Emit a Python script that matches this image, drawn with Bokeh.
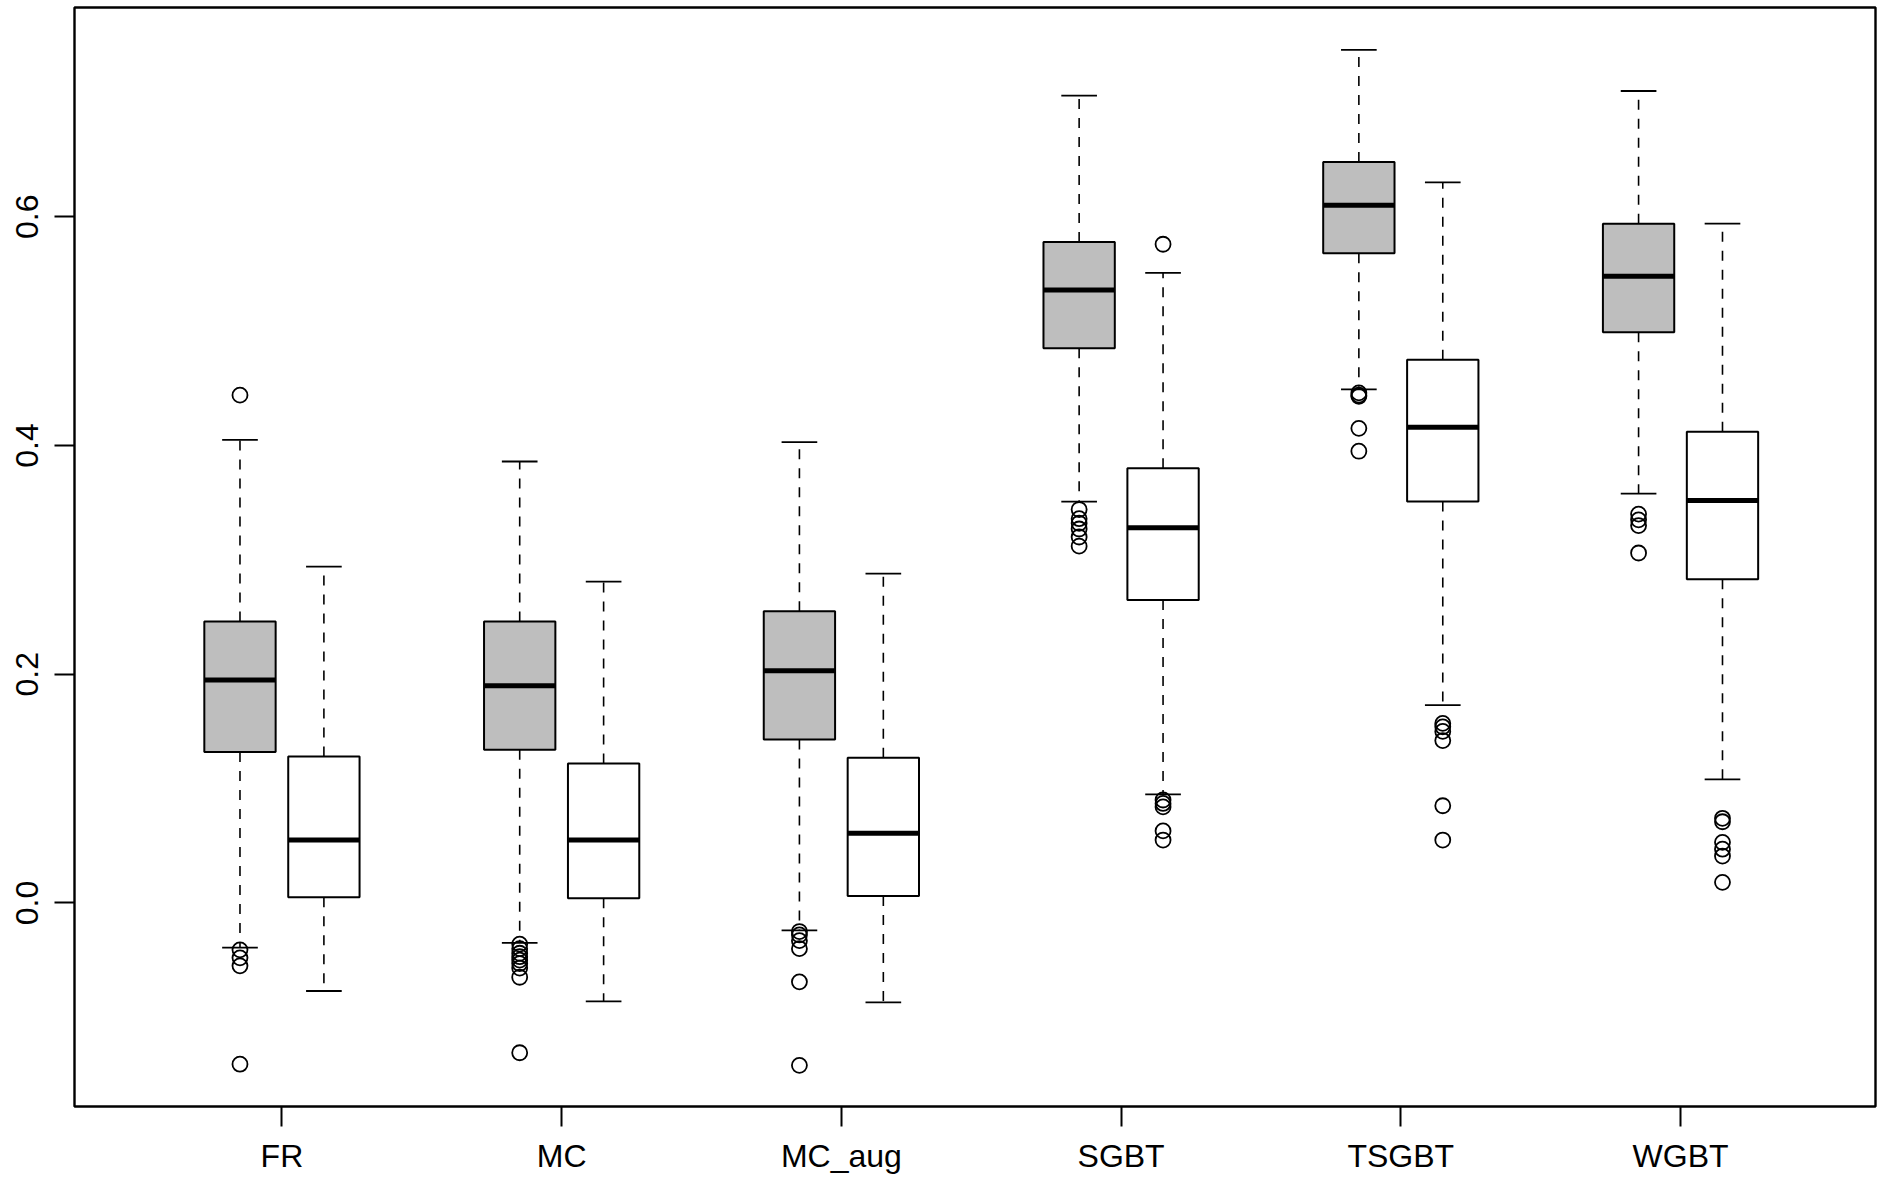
from bokeh.plotting import figure
from bokeh.models import Range1d, FixedTicker, PrintfTickFormatter, ColumnDataSource
from bokeh.embed import file_html
from bokeh.resources import INLINE

categories = ["FR", "MC", "MC_aug", "SGBT", "TSGBT", "WGBT"]

# gray series: (lower whisker, Q1, median, Q3, upper whisker)
gray_low = [-0.039, -0.035, -0.024, 0.351, 0.449, 0.358]
gray_q1 = [0.132, 0.134, 0.143, 0.485, 0.568, 0.499]
gray_med = [0.195, 0.190, 0.203, 0.536, 0.610, 0.548]
gray_q3 = [0.246, 0.246, 0.255, 0.578, 0.648, 0.594]
gray_high = [0.405, 0.386, 0.403, 0.706, 0.746, 0.710]
gray_out = [
    [0.444, -0.041, -0.048, -0.055, -0.141],
    [-0.036, -0.040, -0.044, -0.047, -0.050, -0.053, -0.057, -0.065, -0.131],
    [-0.025, -0.028, -0.033, -0.040, -0.069, -0.142],
    [0.344, 0.336, 0.332, 0.327, 0.320, 0.312],
    [0.446, 0.444, 0.443, 0.415, 0.395],
    [0.340, 0.335, 0.330, 0.306],
]

# white series
white_low = [-0.077, -0.086, -0.087, 0.095, 0.173, 0.108]
white_q1 = [0.005, 0.004, 0.006, 0.265, 0.351, 0.283]
white_med = [0.055, 0.055, 0.061, 0.328, 0.416, 0.352]
white_q3 = [0.128, 0.122, 0.127, 0.380, 0.475, 0.412]
white_high = [0.294, 0.281, 0.288, 0.551, 0.630, 0.594]
white_out = [
    [],
    [],
    [],
    [0.576, 0.090, 0.087, 0.084, 0.063, 0.055],
    [0.157, 0.154, 0.150, 0.142, 0.085, 0.055],
    [0.074, 0.071, 0.053, 0.047, 0.041, 0.018],
]

positions = [1, 2, 3, 4, 5, 6]
offset = 0.15
box_w = 0.255
cap_w = box_w / 2

p = figure(width=1878, height=1176, output_backend="svg", toolbar_location=None,
           x_range=Range1d(0.2584, 6.697), y_range=Range1d(-0.178, 0.783),
           min_border_left=74, min_border_right=3, min_border_top=7, min_border_bottom=69)
p.grid.visible = False
p.background_fill_color = "white"
p.border_fill_color = "white"
p.outline_line_color = "black"
p.outline_line_width = 2.4

def draw(series_low, q1, med, q3, high, outs, shift, fill):
    xs = [x + shift for x in positions]
    src = ColumnDataSource(dict(x=xs, low=series_low, q1=q1, med=med, q3=q3, high=high,
                                left=[x - box_w / 2 for x in xs], right=[x + box_w / 2 for x in xs],
                                cl=[x - cap_w / 2 for x in xs], cr=[x + cap_w / 2 for x in xs]))
    # whiskers (dashed)
    p.segment(x0="x", y0="q3", x1="x", y1="high", source=src, line_color="black",
              line_width=1.6, line_dash="10 9")
    p.segment(x0="x", y0="q1", x1="x", y1="low", source=src, line_color="black",
              line_width=1.6, line_dash="10 9")
    # caps
    p.segment(x0="cl", y0="high", x1="cr", y1="high", source=src, line_color="black", line_width=1.8)
    p.segment(x0="cl", y0="low", x1="cr", y1="low", source=src, line_color="black", line_width=1.8)
    # boxes
    p.quad(left="left", right="right", bottom="q1", top="q3", source=src,
           fill_color=fill, line_color="black", line_width=2)
    # medians
    p.segment(x0="left", y0="med", x1="right", y1="med", source=src, line_color="black", line_width=5)
    ox, oy = [], []
    for x, vals in zip(xs, outs):
        for v in vals:
            ox.append(x)
            oy.append(v)
    p.scatter(ox, oy, marker="circle", size=15, fill_color=None, line_color="black", line_width=1.8)

draw(gray_low, gray_q1, gray_med, gray_q3, gray_high, gray_out, -offset, "#BEBEBE")
draw(white_low, white_q1, white_med, white_q3, white_high, white_out, offset, "white")

# axes
xa = p.xaxis[0]
xa.ticker = FixedTicker(ticks=positions)
xa.major_label_overrides = {i + 1: c for i, c in enumerate(categories)}
xa.axis_line_color = None
xa.major_tick_out = 20
xa.major_tick_in = 0
xa.major_tick_line_width = 2
xa.minor_tick_line_color = None
xa.major_label_standoff = 11
xa.major_label_text_font = "Liberation Sans"
xa.major_label_text_font_size = "32px"
xa.major_label_text_color = "black"

ya = p.yaxis[0]
ya.ticker = FixedTicker(ticks=[0.0, 0.2, 0.4, 0.6])
ya.formatter = PrintfTickFormatter(format="%.1f")
ya.axis_line_color = None
ya.major_tick_out = 20
ya.major_tick_in = 0
ya.major_tick_line_width = 2
ya.minor_tick_line_color = None
ya.major_label_orientation = "vertical"
ya.major_label_standoff = 16
ya.major_label_text_font = "Liberation Sans"
ya.major_label_text_font_size = "32px"
ya.major_label_text_color = "black"

open("out.html", "w").write(file_html(p, INLINE))
